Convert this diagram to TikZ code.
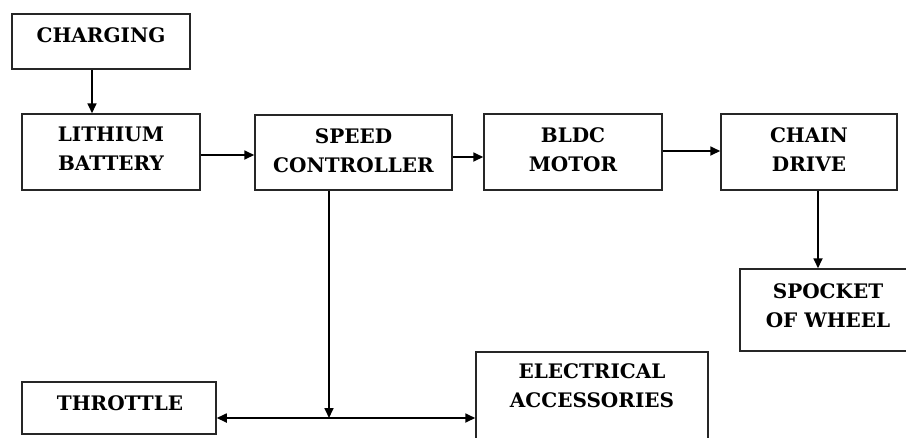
\documentclass[tikz,border=0pt]{standalone}
\usepackage{fontspec}
\setmainfont{DejaVu Serif}
\usetikzlibrary{arrows.meta,calc}
\begin{document}
\begin{tikzpicture}[x=1pt,y=-1pt,
  box/.style={draw=black!85,line width=1.5pt,fill=none,inner sep=0pt},
  lbl/.style={font=\bfseries\fontsize{20}{29}\selectfont,align=center,inner sep=0pt,text=black},
  arr/.style={line width=1.7pt,-{Triangle[length=10pt,width=9pt]}},
  darr/.style={line width=1.7pt,{Triangle[length=10pt,width=9pt]}-{Triangle[length=10pt,width=9pt]}}]
\useasboundingbox (0,0) rectangle (906,437);
\fill[white] (0,0) rectangle (906,437);
% boxes
\node[box,minimum width=178pt,minimum height=55pt] (charging) at (101,41.5) {};
\node[box,minimum width=178pt,minimum height=76pt] (battery) at (111,152) {};
\node[box,minimum width=197pt,minimum height=75pt] (speed) at (353.5,152.5) {};
\node[box,minimum width=178pt,minimum height=76pt] (bldc) at (573,152) {};
\node[box,minimum width=176pt,minimum height=76pt] (chain) at (809,152) {};
\node[box,minimum width=200pt,minimum height=82pt] (spocket) at (840,310) {};
\node[box,minimum width=194pt,minimum height=52pt] (throttle) at (119,408) {};
\node[box,minimum width=232pt,minimum height=100pt] (electrical) at (592,402) {};
% labels
\node[lbl] (chargingt) at (101,35) {CHARGING};
\node[lbl] (batteryt) at (111,149) {LITHIUM\\BATTERY};
\node[lbl] (speedt) at (353.5,150.5) {SPEED\\CONTROLLER};
\node[lbl] (bldct) at (573,149.5) {BLDC\\MOTOR};
\node[lbl] (chaint) at (809,149.5) {CHAIN\\DRIVE};
\node[lbl] (spockett) at (828,306) {SPOCKET\\OF WHEEL};
\node[lbl] (throttlet) at (120,403) {THROTTLE};
\node[lbl] (electricalt) at (592,386) {ELECTRICAL\\ACCESSORIES};
% connectors
\coordinate (j) at ([xshift=-24.5pt]speed.south |- 0,418);
\draw[arr] ([xshift=-9pt]charging.south) -- ([xshift=-19pt]battery.north);
\draw[arr] ([yshift=-3pt]battery.east) -- ([yshift=-3pt]battery.east -| speed.west);
\draw[arr] ([yshift=-4.5pt]speed.east) -- ([yshift=-4.5pt]speed.east -| bldc.west);
\draw[arr] ([yshift=1pt]bldc.east) -- ([yshift=1pt]bldc.east -| chain.west);
\draw[arr] ([xshift=9pt]chain.south) -- ([xshift=9pt]chain.south |- spocket.north);
\draw[arr] ([xshift=-24.5pt]speed.south) -- (j);
\draw[darr] (j -| throttle.east) -- (j -| electrical.west);
\end{tikzpicture}
\end{document}
